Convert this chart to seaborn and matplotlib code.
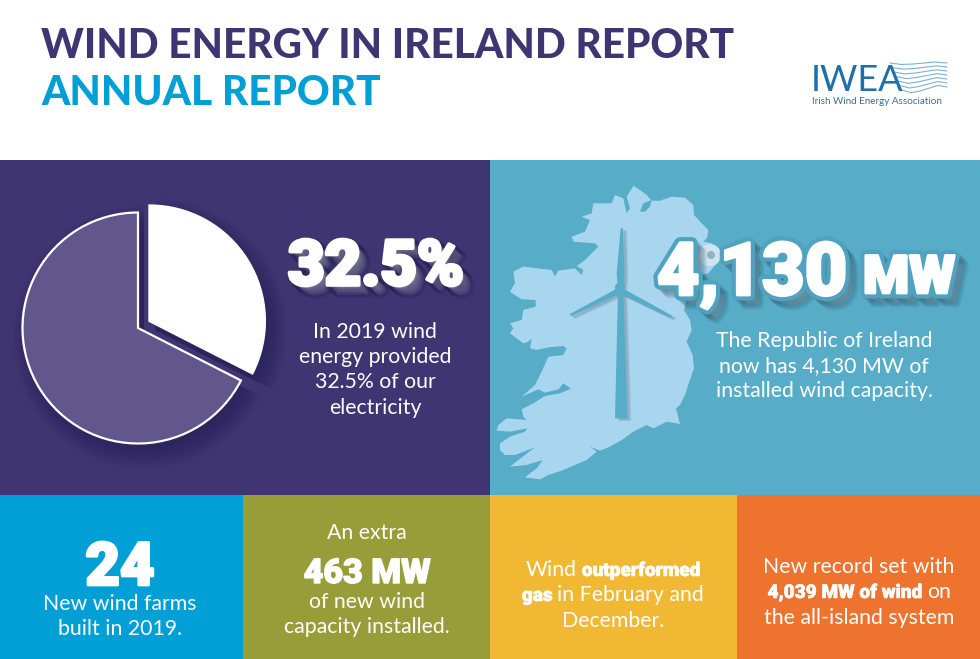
import matplotlib
matplotlib.use("Agg")
import matplotlib.pyplot as plt
import matplotlib.patheffects as pe
from matplotlib.patches import Polygon, Rectangle, Wedge, Circle
import seaborn as sns

# chart values
pie_labels = ["Wind", "Other"]
pie_values = [32.5, 67.5]
pie_colors = ["#FFFFFF", "#62568C"]

tile_colors = ["#3E3572", "#57ACC8", "#009FD6", "#989D3A", "#F0B833", "#EE732F"]

title_lines = ["WIND ENERGY IN IRELAND REPORT", "ANNUAL REPORT"]
pie_text = ["In 2019 wind", "energy provided", "32.5% of our", "electricity"]
map_text = ["The Republic of Ireland", "now has 4,130 MW of", "installed wind capacity."]

# island outline (zoomed crop coords)
ireland_outline = [
    (432, 78), (450, 90), (470, 105), (485, 122), (510, 122), (545, 110), (585, 113), (610, 135),
    (612, 165), (635, 190), (655, 210), (652, 232), (640, 245), (665, 250), (685, 280), (680, 310),
    (655, 340), (625, 345), (600, 370), (590, 420), (582, 450), (600, 480), (605, 510), (590, 545),
    (608, 585), (612, 625), (598, 665), (585, 705), (570, 735), (558, 745), (570, 792), (530, 785),
    (490, 805), (470, 795), (430, 815), (395, 840), (360, 860), (330, 872), (300, 860), (320, 875),
    (290, 900), (250, 917), (215, 932), (175, 945), (150, 958), (105, 952), (140, 925), (158, 900),
    (110, 915), (60, 920), (85, 900), (135, 862), (75, 885), (45, 885), (30, 870), (30, 850),
    (60, 830), (105, 815), (112, 805), (60, 815), (20, 812), (25, 795), (50, 775), (110, 780),
    (100, 770), (95, 748), (130, 730),
    (165, 708), (210, 700), (243, 686), (220, 670), (205, 688), (165, 698), (145, 688),
    (95, 710), (135, 675), (155, 635), (175, 590), (220, 585), (230, 565), (220, 558), (175, 562),
    (140, 570), (120, 565), (125, 535), (115, 545), (100, 550), (60, 520), (70, 505), (60, 490),
    (95, 480), (100, 450), (137, 440), (137, 420), (95, 418), (60, 395), (75, 370), (70, 335),
    (100, 320), (185, 330), (195, 350), (205, 332), (255, 325), (275, 345), (280, 330), (260, 318),
    (285, 300), (325, 260), (315, 250), (250, 245), (245, 230), (285, 215), (300, 180), (275, 170),
    (305, 160), (310, 130), (365, 130), (375, 105), (400, 115), (410, 160), (400, 175), (420, 145),
    (410, 110), (430, 78),
]
foyle_hole = [(450, 155), (460, 130), (485, 120), (480, 140), (465, 155)]

BODY = "Lato"
HEAVY = "Roboto"
BODY_SIZE = 15.3


def Y(py):
    return 659 - py


def zoomed(pts):
    return [(490 + x / 3, Y(160 + y / 3)) for x, y in pts]


def extrude(color, width, steps, alpha, face_width, face_color):
    # soft block shadow on one text object instead of stacking copies
    fx = []
    for k in range(steps, 0, -1):
        fx.append(pe.Stroke(linewidth=width, foreground=color, alpha=alpha, offset=(k, -k)))
    fx.append(pe.withStroke(linewidth=face_width, foreground=face_color))
    return fx


def runs_line(ax, cx, base, runs, size=BODY_SIZE):
    # one centred line made of regular and bold parts
    r = ax.figure.canvas.get_renderer()
    items = []
    for s, bold in runs:
        t = ax.text(0, Y(base), s, color="white", ha="left", va="baseline",
                    family=HEAVY if bold else BODY, fontsize=size - 1.6 if bold else size,
                    weight=900 if bold else "normal", zorder=8)
        if bold:
            t.set_path_effects([pe.withStroke(linewidth=0.4, foreground="white")])
        items.append(t)
    widths = [t.get_window_extent(r).width for t in items]
    # get_window_extent trims trailing spaces, so add them back by hand
    gap = size * 0.32
    total = sum(widths) + gap * (len(items) - 1)
    x = cx - total / 2
    for t, w in zip(items, widths):
        t.set_x(x)
        x += w + gap


def main():
    sns.set_theme(style="white")
    plt.rcParams["font.family"] = [BODY, "DejaVu Sans"]

    fig = plt.figure(figsize=(9.8, 6.59), dpi=100, facecolor="white")
    ax = fig.add_axes([0, 0, 1, 1])

    # panels
    ax.add_patch(Rectangle((0, Y(495)), 490, 335, color=tile_colors[0], zorder=1, lw=0))
    ax.add_patch(Rectangle((490, Y(495)), 490, 335, color=tile_colors[1], zorder=1, lw=0))
    edges = [0, 243, 490, 737, 980]
    for i in range(4):
        ax.add_patch(Rectangle((edges[i], 0), edges[i + 1] - edges[i], 164,
                               color=tile_colors[i + 2], zorder=1, lw=0))

    # title
    ax.text(41, Y(58), title_lines[0], color=tile_colors[0], fontsize=29.2, weight="black",
            family=BODY, va="baseline", zorder=5)
    ax.text(41, Y(105), title_lines[1], color=tile_colors[2], fontsize=29.2, weight="black",
            family=BODY, va="baseline", zorder=5)

    # pie
    wedges, _ = ax.pie(pie_values, colors=pie_colors, startangle=90, counterclock=False,
                       center=(138, Y(328)), radius=115.5, explode=[13.4, 0], frame=True,
                       wedgeprops={"edgecolor": "white", "linewidth": 1.6})
    for w in wedges:
        w.set_zorder(4)
        for k in range(12):
            ax.add_patch(Wedge((w.center[0] + 6, w.center[1] - 9), w.r + 16 - k * 2.4,
                               w.theta1, w.theta2, color="#1E1848", alpha=0.055, lw=0, zorder=3))

    # map + turbine
    ax.add_patch(Polygon(zoomed(ireland_outline), closed=True, color="#A9D6EF", lw=0, zorder=2))
    ax.add_patch(Polygon(zoomed(foyle_hole), closed=True, color=tile_colors[1], lw=0, zorder=3))
    ax.add_patch(Circle((710, Y(255)), 11, color="#CFE3F1", lw=0, zorder=3))
    ax.add_patch(Circle((711, Y(255)), 4, color="#8FB4C8", lw=0, zorder=3))

    tower = [(392, 205), (399, 205), (403, 340), (400, 390), (412, 775), (375, 775), (384, 390), (380, 340)]
    blade_l = [(382, 385), (388, 402), (245, 468), (238, 463)]
    blade_r = [(398, 385), (392, 402), (540, 473), (548, 468)]
    for k in range(8):
        for shape in (tower, blade_l, blade_r):
            shade = [(x + 6 + k, y + 5 + k * 0.5) for x, y in shape]
            ax.add_patch(Polygon(zoomed(shade), closed=True, color="#5A6B80", alpha=0.05, lw=0, zorder=3))
    for shape in (tower, blade_l, blade_r):
        ax.add_patch(Polygon(zoomed(shape), closed=True, color="#57ACC8", lw=0, zorder=4))
    ax.add_patch(Circle((490 + 390 / 3, Y(160 + 382 / 3)), 5, color="#57ACC8", lw=0, zorder=4))

    # big numbers
    ax.text(376, Y(285), "32.5%", fontsize=45.5, family=HEAVY, weight=900, ha="center", va="baseline",
            color="white", zorder=6,
            path_effects=extrude("#1E1848", 5, 7, 0.13, 2.6, "white") + [pe.Normal()])

    for label, x, base, size in [("4,130", 752, 295, 53), ("MW", 909, 293, 38)]:
        ax.text(x, Y(base), label, fontsize=size, family=HEAVY, weight=900, ha="center", va="baseline",
                color="white", zorder=6,
                path_effects=extrude("#2C4A5C", 7, 7, 0.11, 8, "#4FA3C0")
                + [pe.withStroke(linewidth=2, foreground="white"), pe.Normal()])

    # panel captions
    for line, base in zip(pie_text, [338, 363, 388, 414]):
        ax.text(375, Y(base), line, color="white", fontsize=BODY_SIZE, ha="center", va="baseline", zorder=6)
    for line, base in zip(map_text, [347, 372, 397]):
        ax.text(824, Y(base), line, color="white", fontsize=BODY_SIZE, ha="center", va="baseline", zorder=6)

    # bottom tiles
    ax.text(120, Y(585), "24", color="white", fontsize=43, family=HEAVY, weight=900, ha="center",
            va="baseline", zorder=6, path_effects=[pe.withStroke(linewidth=2, foreground="white")])
    ax.text(120, Y(610), "New wind farms", color="white", fontsize=BODY_SIZE, ha="center", va="baseline", zorder=6)
    ax.text(120, Y(635), "built in 2019.", color="white", fontsize=BODY_SIZE, ha="center", va="baseline", zorder=6)

    ax.text(367, Y(539), "An extra", color="white", fontsize=BODY_SIZE, ha="center", va="baseline", zorder=6)
    ax.text(367, Y(583), "463 MW", color="white", fontsize=24.5, family=HEAVY, weight=900, ha="center",
            va="baseline", zorder=6, path_effects=[pe.withStroke(linewidth=1, foreground="white")])
    ax.text(367, Y(608), "of new wind", color="white", fontsize=BODY_SIZE, ha="center", va="baseline", zorder=6)
    ax.text(367, Y(633), "capacity installed.", color="white", fontsize=BODY_SIZE, ha="center", va="baseline", zorder=6)

    runs_line(ax, 613, 576, [("Wind", False), ("outperformed", True)])
    runs_line(ax, 613, 601, [("gas", True), ("in February and", False)])
    runs_line(ax, 613, 627, [("December.", False)])
    runs_line(ax, 859, 573, [("New record set with", False)])
    runs_line(ax, 859, 598, [("4,039 MW of wind", True), ("on", False)])
    runs_line(ax, 859, 624, [("the all-island system", False)])

    # logo
    ax.text(811, Y(91), "IWEA", color="#1F6FA8", fontsize=26, family=BODY, va="baseline", zorder=5)
    ax.text(812, Y(104), "Irish Wind Energy Association", color="#3A6E96", fontsize=7.15,
            family=BODY, va="baseline", zorder=5)
    wave_x = [0, 10, 20, 30, 40, 50]
    wave_shape = [0, 1.5, 1, 0, -1, 0]
    for i, y0 in enumerate([63, 67, 71, 75, 79, 83, 87]):
        x0 = 890 + i * 2
        ax.plot([x0 + (947 - x0) * v / 50 for v in wave_x],
                [Y(y0 + s * (1 + i * 0.2) + i * 0.5 * (1 - v / 50)) for s, v in zip(wave_shape, wave_x)],
                color="#5E9CC9", lw=0.8, alpha=0.8, zorder=4)

    ax.set_xlim(0, 980)
    ax.set_ylim(0, 659)
    ax.set_aspect("auto")
    ax.set_xticks([])
    ax.set_yticks([])
    sns.despine(ax=ax, left=True, bottom=True)
    fig.savefig("out.png", dpi=100)


if __name__ == "__main__":
    main()
